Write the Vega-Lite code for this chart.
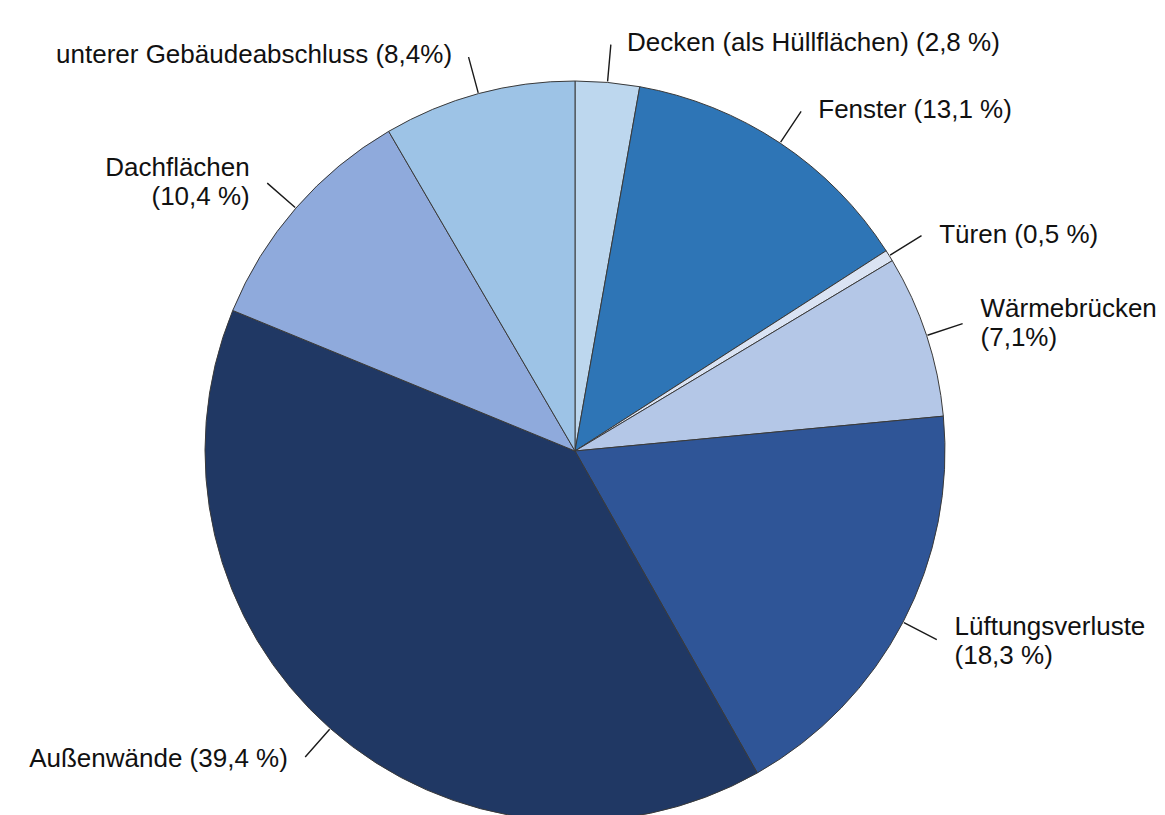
{
  "$schema": "https://vega.github.io/schema/vega-lite/v6.json",
  "width": 1165,
  "height": 815,
  "autosize": {"type": "none"},
  "padding": 0,
  "background": "white",
  "config": {"view": {"stroke": null}},
  "data": {
    "values": [
      {"order": 1, "part": "Decken", "share": 2.8, "text": "Decken (als Hüllflächen) (2,8 %)"},
      {"order": 2, "part": "Fenster", "share": 13.1, "text": "Fenster (13,1 %)"},
      {"order": 3, "part": "Türen", "share": 0.5, "text": "Türen (0,5 %)"},
      {"order": 4, "part": "Wärmebrücken", "share": 7.1, "text": "Wärmebrücken\n(7,1%)"},
      {"order": 5, "part": "Lüftungsverluste", "share": 18.3, "text": "Lüftungsverluste\n(18,3 %)"},
      {"order": 6, "part": "Außenwände", "share": 39.4, "text": "Außenwände (39,4 %)"},
      {"order": 7, "part": "Dachflächen", "share": 10.4, "text": "Dachflächen\n(10,4 %)"},
      {"order": 8, "part": "unterer Gebäudeabschluss", "share": 8.4, "text": "unterer Gebäudeabschluss (8,4%)"}
    ]
  },
  "layer": [
    {
      "mark": {"type": "arc", "x": 575, "y": 451, "radius": 370, "stroke": "#3a3a3a", "strokeWidth": 1},
      "encoding": {
        "theta": {"field": "share", "type": "quantitative", "stack": true, "scale": {"domain": [0, 100]}},
        "order": {"field": "order", "type": "quantitative"},
        "color": {
          "field": "part",
          "type": "nominal",
          "legend": null,
          "scale": {
            "domain": ["Decken", "Fenster", "Türen", "Wärmebrücken", "Lüftungsverluste", "Außenwände", "Dachflächen", "unterer Gebäudeabschluss"],
            "range": ["#bdd7ee", "#2e75b6", "#dae3f3", "#b4c7e7", "#2f5597", "#203864", "#8faadc", "#9dc3e6"]
          }
        }
      }
    },
    {
      "mark": {"type": "arc", "x": 575, "y": 451, "radius": 408, "radius2": 371, "padAngle": 3, "fill": "transparent", "stroke": "#1a1a1a", "strokeWidth": 1.4},
      "encoding": {
        "theta": {"field": "share", "type": "quantitative", "stack": true},
        "order": {"field": "order", "type": "quantitative"}
      }
    },
    {
      "mark": {
        "type": "text",
        "x": 575,
        "y": 451,
        "radius": 410,
        "font": "Liberation Sans, Arial, sans-serif",
        "fontSize": 26,
        "lineHeight": 29,
        "lineBreak": "\n",
        "color": "#111111",
        "baseline": "middle",
        "align": {"expr": "datum.share_start + datum.share_end > 100 ? 'right' : 'left'"},
        "dx": {"expr": "datum.share_start + datum.share_end > 100 ? -16 : 16"},
        "dy": {"expr": "indexof(datum.text, '\\n') >= 0 ? -14 : 0"}
      },
      "encoding": {
        "theta": {"field": "share", "type": "quantitative", "stack": true},
        "order": {"field": "order", "type": "quantitative"},
        "text": {"field": "text", "type": "nominal"}
      }
    }
  ]
}
